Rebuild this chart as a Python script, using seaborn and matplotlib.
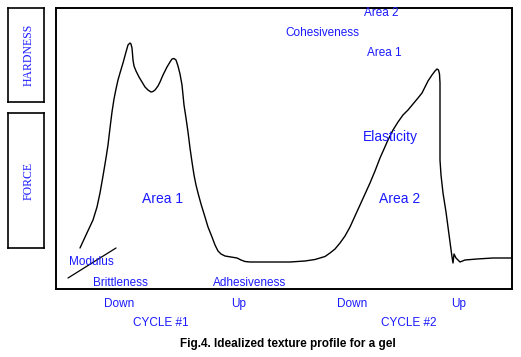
import matplotlib
matplotlib.use("Agg")
import matplotlib.pyplot as plt
import seaborn as sns
import pandas as pd

# Texture profile curve (time, force)
time = [24, 30, 37, 41, 44, 47, 50, 52, 54, 56,
        58, 60, 62, 64, 67, 70, 72, 74, 75, 76,
        77, 78, 80, 83, 86, 89, 92, 95, 97, 99,
        102, 104, 107, 111, 114, 116, 118, 120, 122, 124,
        126, 128, 130, 132, 134, 136, 138, 140, 142, 145,
        149, 152, 156, 159, 162, 165, 169, 175, 181, 185,
        189, 194, 204, 234, 249, 259, 264, 269, 274, 279,
        284, 289, 294, 299, 304, 309, 314, 319, 324, 328,
        332, 337, 342, 347, 352, 357, 362, 366, 369, 372,
        376, 379, 381, 382.5, 383.5, 384, 384, 384, 385, 387,
        390, 392, 394, 396, 397, 398, 400, 402, 404, 409,
        421, 437, 456]
force = [41, 54, 69, 82, 96, 113, 131, 144, 161, 177,
         190, 200, 209, 216, 226, 237, 244, 246, 245, 241,
         229, 223, 218, 212, 207, 202, 199, 197, 197.5, 199,
         203, 207, 214, 222, 227, 230, 230.5, 229, 223, 215,
         204, 184, 171, 157, 141, 127, 114, 104, 96, 85,
         72, 62, 52, 44, 38, 35, 33, 32, 31, 29,
         27.5, 27, 27, 27, 28, 29.5, 31, 32.5, 36, 40,
         46, 53, 62, 73, 84, 95, 106, 118, 131, 140,
         149, 159, 167, 174, 179, 185, 191, 196, 202, 208,
         214, 218, 220, 219, 215, 206, 172, 129, 114, 96,
         77, 62, 47, 32, 26, 35, 31, 29, 27, 29,
         30, 31, 31]

# Modulus tangent line
modulus_t = [12, 60]
modulus_f = [11, 41]

# In-plot labels
inner_labels = ["Area 2", "Cohesiveness", "Area 1", "Elasticity", "Area 1",
                "Area 2", "Modulus", "Brittleness", "Adhesiveness"]
inner_t = [325, 266, 328, 334, 107, 344, 35, 64, 194]
inner_f = [276, 256, 236, 152, 90, 90, 27, 6, 6]
inner_size = [8.5, 8.5, 8.5, 10, 10, 10, 8.5, 8.5, 8.5]

# Direction labels below the frame
below_labels = ["Down", "Up", "Down", "Up"]
below_t = [63, 183, 296, 403]
cycle_labels = ["CYCLE #1", "CYCLE #2"]
cycle_t = [105, 353]

caption = "Fig.4. Idealized texture profile for a gel"

BLUE = "#1a1aff"
W, H = 521, 357

sns.set_theme(style="white")
plt.rcParams["font.family"] = ["Liberation Sans", "DejaVu Sans"]

fig = plt.figure(figsize=(W / 100, H / 100), dpi=100)

def px_axes(x0, y0, x1, y1):
    return fig.add_axes([x0 / W, 1 - y1 / H, (x1 - x0) / W, (y1 - y0) / H])

ax = px_axes(56, 8, 512, 289)
df = pd.DataFrame({"time": time, "force": force})
sns.lineplot(data=df, x="time", y="force", sort=False, estimator=None,
             color="black", linewidth=1.0, ax=ax)
sns.lineplot(x=modulus_t, y=modulus_f, sort=False, estimator=None,
             color="black", linewidth=0.9, ax=ax)
ax.set_xlim(0, 456)
ax.set_ylim(0, 281)
ax.set_xticks([])
ax.set_yticks([])
ax.set_xlabel("")
ax.set_ylabel("")
for s in ax.spines.values():
    s.set_color("black")
    s.set_linewidth(1.4)
    s.set_visible(True)

for lab, t, f, sz in zip(inner_labels, inner_t, inner_f, inner_size):
    ax.text(t, f, lab, color=BLUE, fontsize=sz, ha="center", va="center",
            clip_on=False, zorder=5)

for lab, t in zip(below_labels, below_t):
    ax.annotate(lab, xy=(t, 0), xycoords=("data", "axes fraction"),
                xytext=(0, -15), textcoords="offset pixels",
                color=BLUE, fontsize=8.5, ha="center", va="center")
for lab, t in zip(cycle_labels, cycle_t):
    ax.annotate(lab, xy=(t, 0), xycoords=("data", "axes fraction"),
                xytext=(0, -34), textcoords="offset pixels",
                color=BLUE, fontsize=8.5, ha="center", va="center")

fig.text(288 / W, 1 - 344 / H, caption, fontsize=8.5, fontweight="bold",
         color="black", ha="center", va="center")

# Left boxes
for (y0, y1, lab) in [(8, 102, "HARDNESS"), (113, 248, "FORCE")]:
    bx = px_axes(8, y0, 44, y1)
    bx.set_xticks([])
    bx.set_yticks([])
    for s in bx.spines.values():
        s.set_color("black")
        s.set_linewidth(1.2)
        s.set_visible(True)
    bx.text(0.58, 0.5, lab, rotation=90, ha="center", va="center",
            transform=bx.transAxes, color=BLUE, fontsize=8.5,
            family=["Liberation Serif", "DejaVu Serif"])

fig.savefig("out.png", dpi=100, facecolor="white")
